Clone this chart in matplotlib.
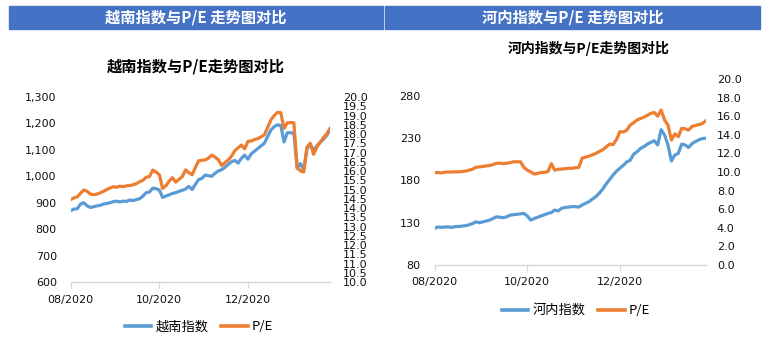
import matplotlib
matplotlib.use("Agg")
import matplotlib.pyplot as plt
from matplotlib.patches import Rectangle
from matplotlib.lines import Line2D

CJK = ['Noto Sans CJK SC', 'DejaVu Sans']
plt.rcParams['font.family'] = ['DejaVu Sans', 'Noto Sans CJK SC']

BLUE = '#5B9BD5'
ORANGE = '#ED7D31'
HEADER = '#4472C4'

# ---- data (trading-day index, Aug 2020 - early 2021) ----
tick_pos = [0, 27, 54]
tick_labels = ['08/2020', '10/2020', '12/2020']

vn_index = [870, 876, 877, 895, 900, 888, 882, 885, 888, 890,
            895, 897, 900, 904, 906, 903, 906, 905, 910, 908,
            912, 915, 925, 938, 940, 955, 953, 948, 920, 925,
            930, 935, 938, 943, 947, 952, 962, 950, 970, 988,
            992, 1005, 1002, 1000, 1012, 1020, 1025, 1034, 1045, 1055,
            1060, 1050, 1068, 1080, 1065, 1085, 1095, 1105, 1115, 1125,
            1150, 1175, 1188, 1195, 1192, 1130, 1165, 1165, 1162, 1030,
            1048, 1025, 1105, 1120, 1098, 1115, 1128, 1140, 1155, 1175]
vn_pe = [14.45, 14.55, 14.6, 14.8, 14.97, 14.9, 14.75, 14.72, 14.75, 14.82,
         14.9, 15.0, 15.08, 15.15, 15.12, 15.18, 15.15, 15.2, 15.22, 15.25,
         15.32, 15.42, 15.5, 15.66, 15.7, 16.05, 15.95, 15.8, 15.06, 15.2,
         15.45, 15.64, 15.4, 15.55, 15.7, 16.06, 15.9, 15.8, 16.2, 16.55,
         16.58, 16.6, 16.7, 16.86, 16.75, 16.6, 16.3, 16.45, 16.6, 16.8,
         17.1, 17.25, 17.4, 17.2, 17.6, 17.62, 17.7, 17.75, 17.85, 17.95,
         18.35, 18.76, 19.0, 19.17, 19.15, 18.3, 18.6, 18.62, 18.6, 16.2,
         16.0, 15.95, 17.3, 17.5, 16.9, 17.3, 17.55, 17.8, 18.0, 18.3]

hnx_index = [123.5, 125, 124.5, 125, 125, 124.5, 125.5, 125.5, 126, 126.5,
             127.5, 129, 131, 130, 131, 132, 133, 135, 137, 136.5,
             136, 137, 139, 139.5, 140, 140.5, 141, 138, 133, 135,
             136.5, 138, 139.5, 141, 142, 145, 144, 147, 148, 148.5,
             149, 149, 148.5, 151, 153, 155, 158, 161, 165, 170,
             176, 181, 186.5, 191, 194.5, 198, 202, 204, 211, 214,
             218, 220, 223, 225, 227, 222, 240, 234, 222, 203,
             210, 212, 223, 222, 219, 223.5, 226, 228, 229.5, 230]
hnx_pe = [9.92, 9.95, 9.9, 9.98, 10.0, 10.0, 10.02, 10.02, 10.05, 10.1,
          10.2, 10.3, 10.5, 10.55, 10.6, 10.65, 10.7, 10.8, 10.93, 10.95,
          10.9, 10.95, 11.0, 11.1, 11.1, 11.1, 10.5, 10.2, 10.0, 9.78,
          9.85, 9.95, 9.95, 10.05, 10.9, 10.2, 10.3, 10.32, 10.35, 10.4,
          10.4, 10.45, 10.5, 11.5, 11.6, 11.7, 11.85, 12.0, 12.2, 12.4,
          12.7, 13.0, 12.95, 13.5, 14.34, 14.3, 14.5, 15.05, 15.3, 15.6,
          15.75, 15.9, 16.1, 16.3, 16.4, 16.0, 16.67, 15.6, 15.05, 13.44,
          14.1, 13.8, 14.7, 14.65, 14.5, 14.9, 15.0, 15.1, 15.2, 15.5]

W, H = 768, 344
fig = plt.figure(figsize=(W / 100, H / 100), dpi=100)


def fx(px):
    return px / W


def fy(py):
    return 1 - py / H


# header bars
for x0, x1, text in [(9, 383, '越南指数与P/E 走势图对比'),
                     (385, 760, '河内指数与P/E 走势图对比')]:
    fig.patches.append(Rectangle((fx(x0), fy(29)), fx(x1 - x0), (29 - 6) / H,
                                 transform=fig.transFigure, color=HEADER, zorder=0))
    fig.text(fx((x0 + x1) / 2), fy(17.5), text, color='white', fontsize=11,
             fontweight='bold', ha='center', va='center', family=CJK)


def panel(rect, idx, pe, ylim, yticks, yfmt, y2lim, y2ticks, name, title, title_xy,
          legend_xy, lab_pad):
    ax = fig.add_axes(rect)
    x = list(range(len(idx)))
    ax2 = ax.twinx()
    ax.plot(x, idx, color=BLUE, lw=2.3, solid_joinstyle='round', zorder=3)
    ax2.plot(x, pe, color=ORANGE, lw=2.3, solid_joinstyle='round', zorder=3)
    ax.set_xlim(0, len(idx) - 1)
    ax.set_ylim(*ylim)
    ax2.set_ylim(*y2lim)
    ax.set_yticks(yticks)
    ax.set_yticklabels([yfmt(v) for v in yticks])
    ax2.set_yticks(y2ticks)
    ax2.set_yticklabels([f'{v:.1f}' for v in y2ticks])
    ax.set_xticks(tick_pos)
    ax.set_xticklabels(tick_labels)
    for a in (ax, ax2):
        for s in ('top', 'left', 'right'):
            a.spines[s].set_visible(False)
        a.spines['bottom'].set_color('#D9D9D9')
        a.spines['bottom'].set_linewidth(0.9)
    ax.tick_params(axis='y', length=0, pad=lab_pad[0], labelsize=8, labelcolor='#111111')
    ax2.tick_params(axis='y', length=0, pad=lab_pad[1], labelsize=8, labelcolor='#111111')
    ax.tick_params(axis='x', length=4, width=0.9, color='#D9D9D9', pad=5,
                   labelsize=8, labelcolor='#111111')
    fig.text(fx(title_xy[0]), fy(title_xy[1]), title, fontsize=title_xy[2],
             fontweight='bold', ha='center', va='center', family=CJK)
    handles = [Line2D([], [], color=BLUE, lw=2.6), Line2D([], [], color=ORANGE, lw=2.6)]
    fig.legend(handles, [name, 'P/E'], loc='center',
               bbox_to_anchor=(fx(legend_xy[0]), fy(legend_xy[1])),
               ncol=2, frameon=False, prop={'family': CJK, 'size': 9.5},
               handlelength=2.0, handletextpad=0.3, columnspacing=1.0,
               borderpad=0, borderaxespad=0)
    return ax


panel([fx(70.7), fy(282), fx(259.3), 185 / H], vn_index, vn_pe,
      (600, 1300), list(range(600, 1301, 100)), lambda v: f'{v:,}',
      (10, 20), [10 + 0.5 * k for k in range(21)],
      '越南指数', '越南指数与P/E走势图对比', (196, 67, 11), (199, 327), (10, 9.5))

panel([fx(434.7), fy(265), fx(271), 186 / H], hnx_index, hnx_pe,
      (80, 300), [80, 130, 180, 230, 280], lambda v: f'{v}',
      (0, 20), [2.0 * k for k in range(11)],
      '河内指数', '河内指数与P/E走势图对比', (589, 48, 10), (576, 311), (10, 8))

fig.savefig('out.png', dpi=100)
